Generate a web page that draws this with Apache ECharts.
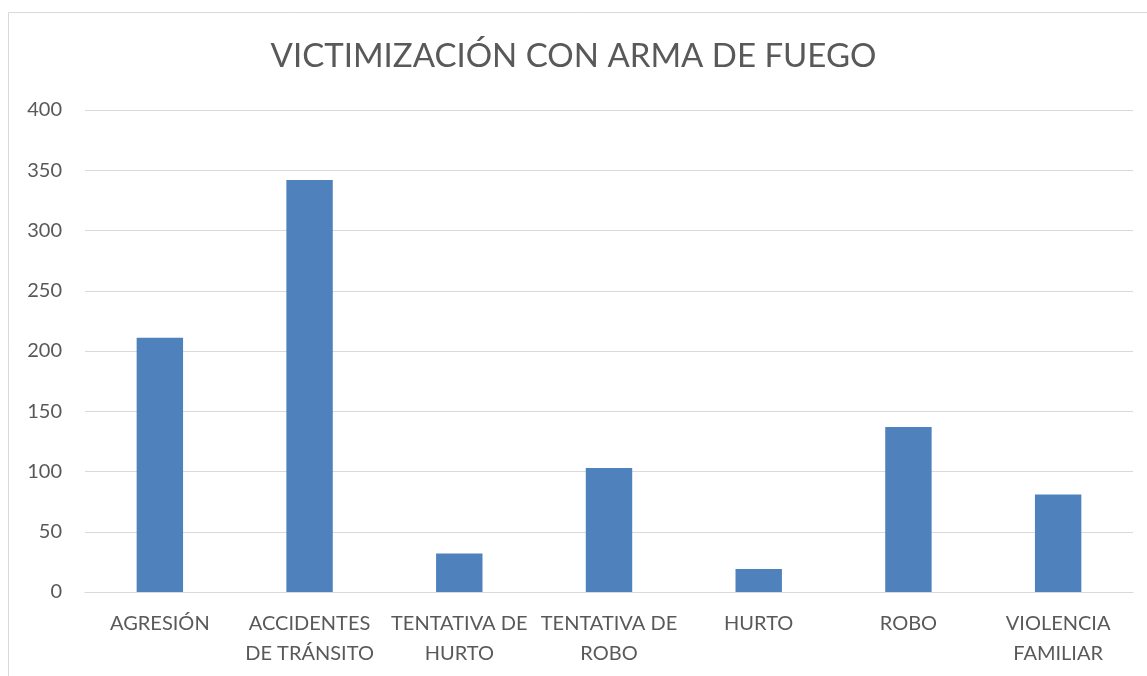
<!DOCTYPE html>
<html><head><meta charset="utf-8">
<script src="https://cdn.jsdelivr.net/npm/echarts@6/dist/echarts.min.js"></script>
<style>html,body{margin:0;padding:0;background:#fff}#c{width:1147px;height:676px}</style>
</head><body><div id="c"></div>
<script>
const categories = ['AGRESIÓN', 'ACCIDENTES\nDE TRÁNSITO', 'TENTATIVA DE\nHURTO', 'TENTATIVA DE\nROBO', 'HURTO', 'ROBO', 'VIOLENCIA\nFAMILIAR'];
const values = [211, 342, 32, 103, 19, 137, 81];
const titleText = 'VICTIMIZACIÓN CON ARMA DE FUEGO';
const chart = echarts.init(document.getElementById('c'));
const font = 'Lato, "Open Sans", sans-serif';
chart.setOption({
  animation: false,
  graphic: [{type:'rect', shape:{x:8.5,y:12.5,width:1150,height:680}, style:{fill:'none', stroke:'#d9d9d9', lineWidth:1}, silent:true}],
  title: {text: titleText, left: 'center', top: 35, textStyle:{fontFamily:font, fontSize:33, fontWeight:'normal', color:'#595959'}},
  grid: {left: 85, right: 14, top: 110, bottom: 84, containLabel:false},
  xAxis: {type:'category', data: categories,
    axisLine:{lineStyle:{color:'#d9d9d9', width:1}}, axisTick:{show:false},
    axisLabel:{fontFamily:font, fontSize:20, color:'#595959', margin:17, lineHeight:30, interval:0}},
  yAxis: {type:'value', min:0, max:400, interval:50,
    axisLine:{show:false}, axisTick:{show:false},
    splitLine:{lineStyle:{color:'#d9d9d9', width:1}},
    axisLabel:{fontFamily:font, fontSize:20, color:'#595959', margin:23}},
  series: [{type:'bar', data: values, barWidth:'31%', itemStyle:{color:'#4F81BD'}}]
});
</script></body></html>
